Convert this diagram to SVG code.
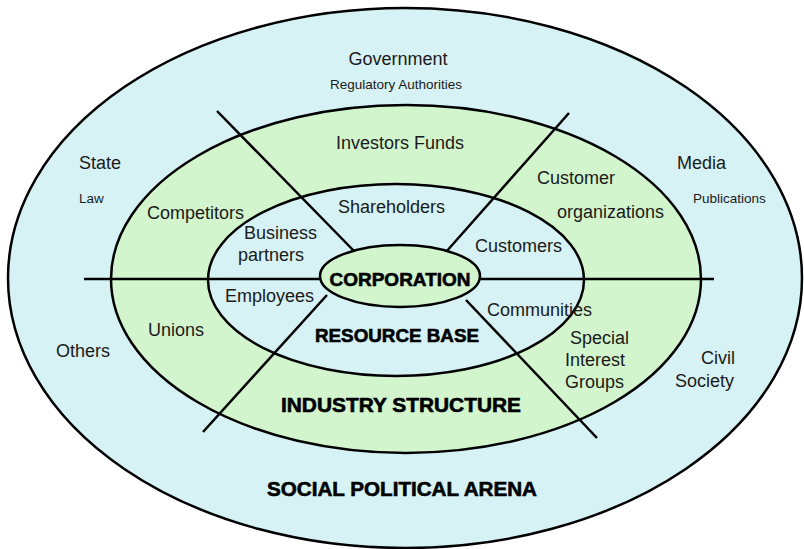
<svg xmlns="http://www.w3.org/2000/svg" width="804" height="549" viewBox="0 0 804 549">
<style>
.ring{stroke:#000;stroke-width:2.5}
.cyan{fill:#d7f2f4}
.green{fill:#d3f5cd}
.ln{stroke:#000;stroke-width:2.5;fill:none}
text{font-family:"Liberation Sans",Arial,sans-serif;fill:#1a1a1a}
.m{font-size:18px}
.s{font-size:13.5px}
.b{font-weight:bold;fill:#000;stroke:#000;stroke-width:0.6;text-anchor:middle}
.c{text-anchor:middle}
</style>
<rect width="804" height="549" fill="#ffffff"/>
<g id="social-political-arena">
<ellipse class="ring cyan" cx="405" cy="278" rx="397" ry="270"/>
</g>
<g id="industry-structure">
<ellipse class="ring green" cx="406" cy="279" rx="295" ry="174"/>
</g>
<g id="resource-base">
<ellipse class="ring cyan" cx="396" cy="280" rx="188" ry="96"/>
</g>
<g id="connectors">
<line class="ln" x1="84" y1="279" x2="714" y2="279"/>
<line class="ln" x1="217" y1="111" x2="354" y2="251"/>
<line class="ln" x1="569" y1="113" x2="446" y2="252"/>
<line class="ln" x1="203" y1="432" x2="327" y2="295"/>
<line class="ln" x1="466" y1="300" x2="597" y2="438"/>
</g>
<g id="corporation">
<ellipse class="ring green" cx="400" cy="276" rx="80" ry="31"/>
<text class="b" x="400" y="286" font-size="19" textLength="141" lengthAdjust="spacingAndGlyphs">CORPORATION</text>
</g>
<g id="labels-outer">
<text class="m c" x="398" y="65">Government</text>
<text class="s c" x="396" y="89">Regulatory Authorities</text>
<text class="m" x="79" y="169">State</text>
<text class="s" x="79" y="203">Law</text>
<text class="m" x="677" y="169">Media</text>
<text class="s" x="693" y="203">Publications</text>
<text class="m" x="56" y="357">Others</text>
<text class="m" x="701" y="364">Civil</text>
<text class="m" x="675" y="387">Society</text>
<text class="b" x="402" y="496" font-size="20" textLength="270" lengthAdjust="spacingAndGlyphs">SOCIAL POLITICAL ARENA</text>
</g>
<g id="labels-industry">
<text class="m c" x="400" y="149">Investors Funds</text>
<text class="m" x="537" y="184">Customer</text>
<text class="m" x="557" y="218">organizations</text>
<text class="m" x="147" y="219">Competitors</text>
<text class="m" x="148" y="336">Unions</text>
<text class="m" x="570" y="344">Special</text>
<text class="m" x="565" y="366">Interest</text>
<text class="m" x="565" y="388">Groups</text>
<text class="b" x="401" y="412" font-size="20" textLength="240" lengthAdjust="spacingAndGlyphs">INDUSTRY STRUCTURE</text>
</g>
<g id="labels-resource">
<text class="m" x="338" y="213">Shareholders</text>
<text class="m" x="244" y="239">Business</text>
<text class="m" x="238" y="261">partners</text>
<text class="m" x="475" y="252">Customers</text>
<text class="m" x="225" y="302">Employees</text>
<text class="m" x="487" y="316">Communities</text>
<text class="b" x="397" y="342" font-size="19" textLength="164" lengthAdjust="spacingAndGlyphs">RESOURCE BASE</text>
</g>
</svg>
